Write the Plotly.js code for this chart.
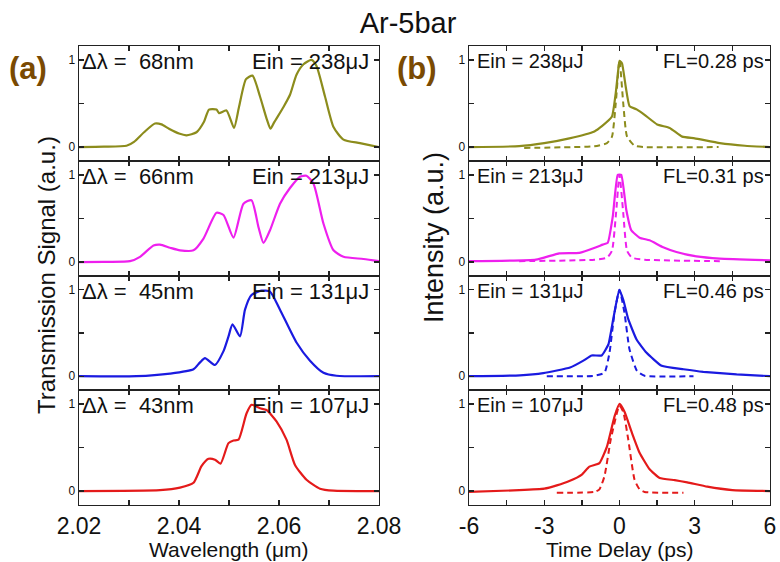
<!DOCTYPE html>
<html>
<head>
<meta charset="utf-8">
<script src="https://cdn.plot.ly/plotly-3.0.1.min.js"></script>
<style>html,body{margin:0;padding:0;background:#fff;}#chart{width:780px;height:562px;}</style>
</head>
<body>
<div id="chart"></div>
<script>
// ---------- data ----------
const energies = ['238', '213', '131', '107'];
const bandwidths = ['68', '66', '45', '43'];
const fourierLimits = ['0.28', '0.31', '0.46', '0.48'];
const seriesColors = ['#8c8c1c', '#ee1fee', '#1a1ae0', '#e41a1a'];

// (a) spectra: wavelength (um) vs transmission
const wl238 = [2.020,2.025,2.0295,2.031,2.033,2.0352,2.0365,2.038,2.040,2.0415,2.0435,2.045,2.046,2.0475,2.048,2.0495,2.051,2.052,2.0534,2.0547,2.0562,2.0575,2.0583,2.059,2.0609,2.0622,2.0635,2.0649,2.0665,2.0675,2.0692,2.0709,2.0729,2.0762,2.080];
const sp238 = [0,0.004,0.015,0.06,0.17,0.27,0.26,0.21,0.155,0.135,0.17,0.29,0.43,0.43,0.39,0.42,0.22,0.46,0.78,0.82,0.58,0.33,0.21,0.28,0.46,0.6,0.83,0.95,1.0,0.93,0.58,0.23,0.085,0.045,0];
const wl213 = [2.020,2.025,2.0302,2.0322,2.0349,2.0362,2.0382,2.0402,2.0429,2.0449,2.0475,2.0489,2.0509,2.0529,2.0545,2.0559,2.0569,2.0582,2.0602,2.0622,2.0642,2.0655,2.0669,2.0689,2.0709,2.0729,2.0769,2.080];
const sp213 = [0,0.003,0.01,0.06,0.19,0.2,0.165,0.135,0.135,0.27,0.565,0.54,0.28,0.67,0.71,0.40,0.22,0.365,0.67,0.85,0.98,0.99,0.9,0.44,0.135,0.06,0.035,0.01];
const wl131 = [2.020,2.0315,2.0382,2.0429,2.0442,2.0452,2.0472,2.0489,2.0499,2.0507,2.0522,2.0532,2.0545,2.0565,2.0582,2.0602,2.0635,2.0662,2.0689,2.0715,2.080];
const sp131 = [0,0,0.03,0.08,0.16,0.21,0.13,0.29,0.46,0.6,0.46,0.77,0.94,0.99,0.98,0.77,0.39,0.18,0.04,0.005,0];
const wl107 = [2.020,2.0362,2.0402,2.0429,2.0445,2.0459,2.0472,2.0483,2.0499,2.0509,2.0519,2.0535,2.0545,2.0562,2.0575,2.0595,2.0615,2.0632,2.0655,2.0682,2.0709,2.080];
const sp107 = [0,0.01,0.04,0.095,0.285,0.37,0.36,0.315,0.55,0.58,0.59,0.89,0.99,0.95,0.93,0.8,0.59,0.3,0.13,0.027,0.004,0];

// (b) pulses: time delay (ps) vs intensity, measured (solid) and Fourier limit (dashed)
const t238 = [-6,-4,-3,-2,-1,-0.7,-0.3,-0.15,-0.05,0,0.1,0.25,0.4,0.7,1,1.5,2,2.5,3,4,5,6];
const p238 = [0,0.01,0.045,0.1,0.18,0.24,0.35,0.62,0.885,0.99,0.96,0.69,0.47,0.43,0.37,0.26,0.22,0.12,0.1,0.045,0.015,0];
const tf238 = [-3.8,-1,-0.5,-0.3,-0.15,0,0.15,0.3,0.6,1,3.95];
const pf238 = [-0.01,0.01,0.045,0.12,0.5,1,0.5,0.12,0.015,0,0];

const t213 = [-6,-3.33,-2.4,-1.6,-0.93,-0.67,-0.47,-0.27,-0.07,0.07,0.27,0.47,0.8,1.2,1.74,2.27,3.07,4.0,6];
const p213 = [0.01,0.027,0.1,0.105,0.17,0.2,0.22,0.52,1.0,1.0,0.6,0.365,0.28,0.25,0.17,0.115,0.065,0.04,0.02];
const tf213 = [-4,-1,-0.5,-0.3,-0.15,0,0.15,0.3,0.5,1,4];
const pf213 = [0.01,0.027,0.05,0.13,0.52,1.0,0.56,0.13,0.05,0.027,0.01];

const t131 = [-6,-3.97,-3.04,-1.97,-1.44,-1.11,-0.71,-0.44,-0.25,-0.01,0.15,0.35,0.68,1.08,1.68,2.55,3.34,4.67,6];
const p131 = [0,0.01,0.035,0.1,0.18,0.24,0.24,0.37,0.66,1.0,0.885,0.66,0.425,0.27,0.12,0.08,0.05,0.02,0];
const tf131 = [-2.9,-1,-0.6,-0.4,-0.2,0,0.2,0.4,0.7,1,2.95];
const pf131 = [0,0.005,0.04,0.27,0.73,1.0,0.73,0.31,0.06,0.005,0];

const t107 = [-6,-4,-3,-2.5,-2,-1.5,-1.2,-0.8,-0.5,-0.2,0,0.2,0.5,0.8,1.2,1.6,2.2,2.7,3.5,4.5,6];
const p107 = [-0.01,0.01,0.027,0.065,0.115,0.19,0.28,0.32,0.51,0.855,1.0,0.91,0.665,0.44,0.25,0.15,0.125,0.1,0.05,0.011,0];
const tf107 = [-2.5,-1,-0.8,-0.6,-0.35,-0.1,0,0.15,0.35,0.6,0.8,1,2.55];
const pf107 = [-0.02,-0.01,0.02,0.17,0.59,0.9,0.98,0.91,0.59,0.13,0.02,-0.01,-0.02];

const wlTicks = [2.02,2.03,2.04,2.05,2.06,2.07,2.08];
const wlTickText = ['2.02','','2.04','','2.06','','2.08'];
const tTicks = [-6,-4.5,-3,-1.5,0,1.5,3,4.5,6];
const tTickText = ['-6','','-3','','0','','3','','6'];

// ---------- build ----------
const W = 780, H = 562;
const px = p => p / W, py = p => 1 - p / H;
const FONT = 'Liberation Sans, Arial, Helvetica, sans-serif';

const spectraX = [wl238, wl213, wl131, wl107];
const spectraY = [sp238, sp213, sp131, sp107];
const pulseX = [t238, t213, t131, t107];
const pulseY = [p238, p213, p131, p107];
const limitX = [tf238, tf213, tf131, tf107];
const limitY = [pf238, pf213, pf131, pf107];

const rowEdges = [46, 161, 276, 390, 505];
const leftDom = [px(79), px(379)];
const rightDom = [px(469), px(770)];

const traces = [];
const layout = {
  width: W, height: H,
  margin: {l: 0, r: 0, t: 0, b: 0},
  paper_bgcolor: '#fff', plot_bgcolor: '#fff',
  showlegend: false,
  font: {family: FONT, color: '#111'},
  title: {text: 'Ar-5bar', x: px(408), xanchor: 'center', y: py(23), yanchor: 'middle',
          font: {family: FONT, size: 29, color: '#111'}},
  annotations: []
};

function axisBase() {
  return {
    showline: true, linecolor: '#222', linewidth: 1.4, mirror: 'ticks',
    ticks: 'inside', ticklen: 5, tickwidth: 1.3, tickcolor: '#222',
    showgrid: false, zeroline: false, fixedrange: true
  };
}

for (let i = 0; i < 4; i++) {
  const yd = [py(rowEdges[i + 1]), py(rowEdges[i])];
  const nL = 2 * i + 1, nR = 2 * i + 2;
  const sfx = n => (n === 1 ? '' : String(n));
  const last = (i === 3);

  traces.push({x: spectraX[i], y: spectraY[i], type: 'scatter', mode: 'lines',
    xaxis: 'x' + sfx(nL), yaxis: 'y' + sfx(nL),
    line: {color: seriesColors[i], width: 2.2, shape: 'spline', smoothing: 0.6}, hoverinfo: 'skip'});
  traces.push({x: limitX[i], y: limitY[i], type: 'scatter', mode: 'lines',
    xaxis: 'x' + sfx(nR), yaxis: 'y' + sfx(nR),
    line: {color: seriesColors[i], width: 2, dash: '6px,4px', shape: 'spline', smoothing: 0.5}, hoverinfo: 'skip'});
  traces.push({x: pulseX[i], y: pulseY[i], type: 'scatter', mode: 'lines',
    xaxis: 'x' + sfx(nR), yaxis: 'y' + sfx(nR),
    line: {color: seriesColors[i], width: 2.2, shape: 'spline', smoothing: 0.4}, hoverinfo: 'skip'});

  const xl = Object.assign(axisBase(), {domain: leftDom, anchor: 'y' + sfx(nL), range: [2.02, 2.08],
    tickmode: 'array', tickvals: wlTicks, ticktext: wlTickText, showticklabels: last,
    tickfont: {family: FONT, size: 23, color: '#111'}});
  const xr = Object.assign(axisBase(), {domain: rightDom, anchor: 'y' + sfx(nR), range: [-6, 6],
    tickmode: 'array', tickvals: tTicks, ticktext: tTickText, showticklabels: last,
    tickfont: {family: FONT, size: 23, color: '#111'}});
  const yBase = {range: [-0.16, 1.16], tickmode: 'array', tickvals: [0, 0.5, 1], ticktext: ['0', '', '1'],
    tickfont: {family: FONT, size: 12, color: '#111'}, domain: yd};
  const yl = Object.assign(axisBase(), yBase, {anchor: 'x' + sfx(nL)});
  const yr = Object.assign(axisBase(), yBase, {anchor: 'x' + sfx(nR)});
  layout['xaxis' + sfx(nL)] = xl;
  layout['xaxis' + sfx(nR)] = xr;
  layout['yaxis' + sfx(nL)] = yl;
  layout['yaxis' + sfx(nR)] = yr;

  const yc = py(rowEdges[i] + 15);
  layout.annotations.push({xref: 'paper', yref: 'paper', x: px(80), y: yc, xanchor: 'left', yanchor: 'middle',
    text: '\u0394\u03bb =  ' + bandwidths[i] + 'nm', showarrow: false, font: {family: FONT, size: 22, color: '#111'}});
  layout.annotations.push({xref: 'paper', yref: 'paper', x: px(371), y: yc, xanchor: 'right', yanchor: 'middle',
    text: 'Ein = ' + energies[i] + '\u03bcJ', showarrow: false, font: {family: FONT, size: 22, color: '#111'}});
  layout.annotations.push({xref: 'paper', yref: 'paper', x: px(475), y: yc, xanchor: 'left', yanchor: 'middle',
    text: 'Ein = ' + energies[i] + '\u03bcJ', showarrow: false, font: {family: FONT, size: 20, color: '#111'}});
  layout.annotations.push({xref: 'paper', yref: 'paper', x: px(766), y: yc, xanchor: 'right', yanchor: 'middle',
    text: 'FL=' + fourierLimits[i] + ' ps', showarrow: false, font: {family: FONT, size: 20, color: '#111'}});
}

// axis titles, panel labels
layout.annotations.push({xref: 'paper', yref: 'paper', x: px(229), y: py(549), xanchor: 'center', yanchor: 'middle',
  text: 'Wavelength (\u03bcm)', showarrow: false, font: {family: FONT, size: 21, color: '#111'}});
layout.annotations.push({xref: 'paper', yref: 'paper', x: px(619), y: py(549), xanchor: 'center', yanchor: 'middle',
  text: 'Time Delay (ps)', showarrow: false, font: {family: FONT, size: 21, color: '#111'}});
layout.annotations.push({xref: 'paper', yref: 'paper', x: px(28), y: py(68), xanchor: 'center', yanchor: 'middle',
  text: '<b>(a)</b>', showarrow: false, font: {family: FONT, size: 31, color: '#7a4a02'}});
layout.annotations.push({xref: 'paper', yref: 'paper', x: px(417), y: py(68), xanchor: 'center', yanchor: 'middle',
  text: '<b>(b)</b>', showarrow: false, font: {family: FONT, size: 31, color: '#7a4a02'}});
layout.annotations.push({xref: 'paper', yref: 'paper', x: px(47), y: py(275), xanchor: 'center', yanchor: 'middle',
  text: 'Transmission Signal (a.u.)', textangle: -90, showarrow: false, font: {family: FONT, size: 24, color: '#111'}});
layout.annotations.push({xref: 'paper', yref: 'paper', x: px(434), y: py(238), xanchor: 'center', yanchor: 'middle',
  text: 'Intensity (a.u.)', textangle: -90, showarrow: false, font: {family: FONT, size: 27, color: '#111'}});

Plotly.newPlot('chart', traces, layout, {displayModeBar: false, staticPlot: true});
</script>
</body>
</html>
